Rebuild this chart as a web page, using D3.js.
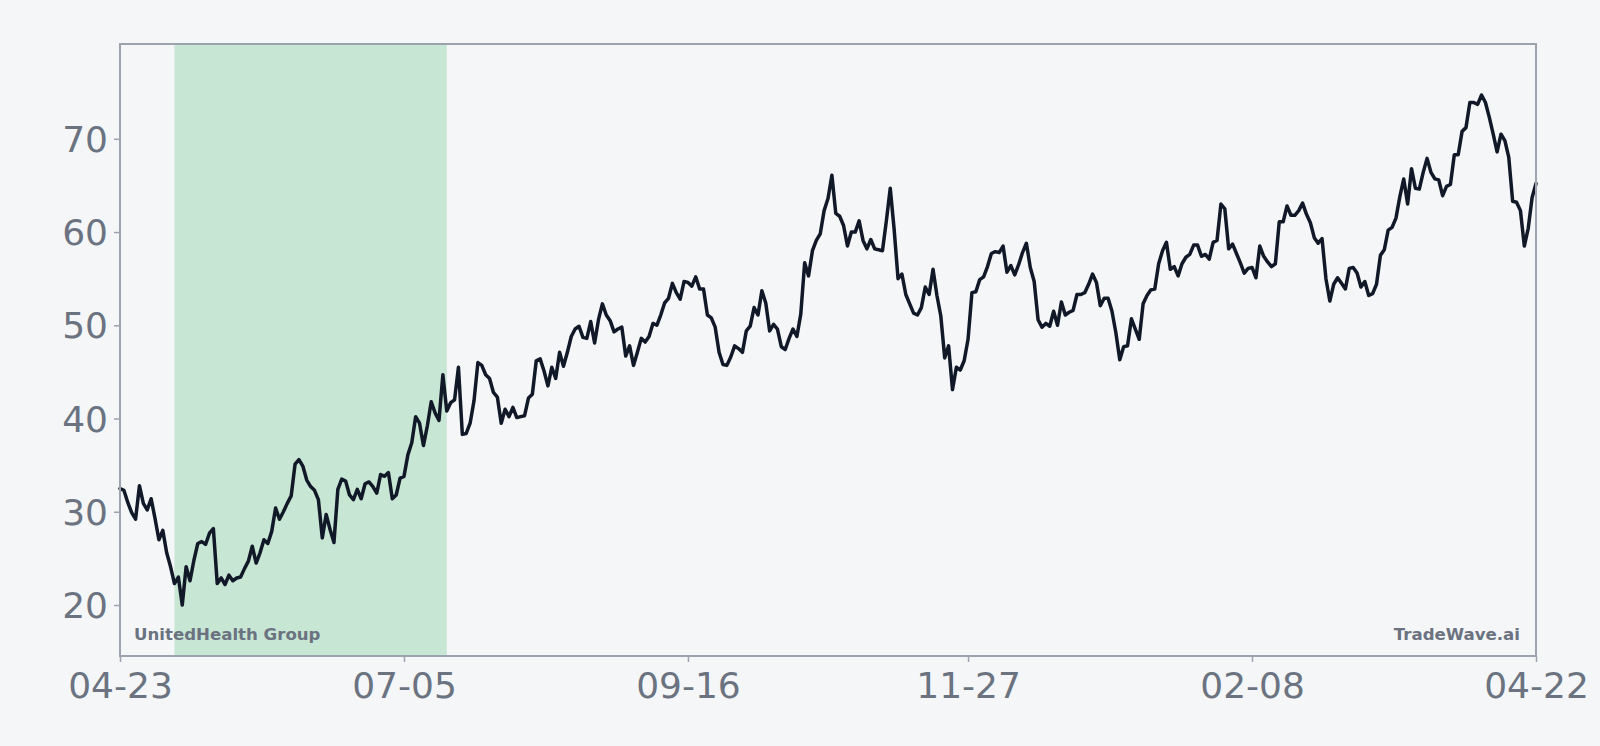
<!DOCTYPE html>
<html>
<head>
<meta charset="utf-8">
<script src="https://cdn.jsdelivr.net/npm/d3@7"></script>
<style>
  html, body { margin: 0; padding: 0; background: #f4f6f8; }
  svg { display: block; }
</style>
</head>
<body>
<svg id="chart" width="1600" height="746"></svg>
<script>
// ---- data ----
const startDate = "2022-04-23";           // first daily observation
const prices = [
  32.5,32.3,31.0,29.9,29.2,32.8,30.9,30.2,31.4,29.3,
  27.0,28.0,25.6,24.1,22.3,23.0,20.0,24.1,22.6,24.8,
  26.6,26.8,26.5,27.7,28.2,22.3,22.9,22.2,23.2,22.6,
  22.9,23.0,23.9,24.7,26.3,24.5,25.6,27.0,26.6,27.9,
  30.4,29.2,30.0,30.9,31.7,35.1,35.6,34.9,33.4,32.7,
  32.3,31.3,27.2,29.7,28.1,26.7,32.4,33.5,33.3,31.8,
  31.3,32.4,31.4,33.0,33.2,32.7,32.0,34.0,33.8,34.2,
  31.4,31.8,33.6,33.8,36.1,37.4,40.2,39.5,37.1,39.2,
  41.8,40.6,39.8,44.7,40.8,41.7,42.0,45.5,38.3,38.4,
  39.5,41.9,46.0,45.7,44.7,44.3,42.8,42.3,39.5,41.0,
  40.2,41.2,40.1,40.2,40.3,42.2,42.6,46.2,46.4,45.1,
  43.5,45.5,44.3,47.1,45.6,47.1,48.8,49.6,49.9,48.7,
  48.6,50.4,48.1,50.6,52.3,51.1,50.5,49.3,49.6,49.8,
  46.7,47.8,45.7,47.1,48.6,48.2,48.8,50.2,50.0,51.1,
  52.4,52.9,54.5,53.5,52.8,54.7,54.6,54.2,55.2,53.9,
  53.9,51.1,50.8,49.8,47.1,45.8,45.7,46.6,47.8,47.5,
  47.1,49.4,49.9,51.9,51.1,53.7,52.4,49.4,50.1,49.6,
  47.7,47.4,48.6,49.6,48.8,51.2,56.7,55.3,58.0,59.1,
  59.8,62.3,63.6,66.1,62.0,61.7,60.7,58.5,60.0,60.0,
  61.2,59.1,58.2,59.2,58.2,58.1,58.0,61.2,64.7,60.3,
  55.0,55.5,53.3,52.3,51.3,51.1,51.9,54.1,53.3,56.0,
  53.2,51.0,46.5,47.8,43.1,45.5,45.2,46.2,48.5,53.5,
  53.6,54.9,55.2,56.3,57.7,57.9,57.8,58.5,55.7,56.4,
  55.4,56.5,57.8,58.8,56.2,54.7,50.6,49.8,50.2,49.9,
  51.5,50.0,52.5,51.1,51.4,51.6,53.3,53.3,53.5,54.4,
  55.5,54.6,52.1,52.9,52.9,51.5,49.2,46.3,47.7,47.8,
  50.7,49.6,48.5,52.3,53.2,53.8,53.9,56.6,58.0,58.9,
  56.0,56.3,55.3,56.6,57.3,57.6,58.6,58.6,57.4,57.6,
  57.1,58.9,59.1,63.0,62.5,58.2,58.7,57.7,56.7,55.6,
  56.1,56.2,55.1,58.5,57.4,56.8,56.3,56.6,61.1,61.1,
  62.8,61.8,61.8,62.3,63.1,61.9,61.0,59.4,58.8,59.3,
  55.0,52.6,54.4,55.1,54.5,53.9,56.1,56.2,55.6,54.1,
  54.7,53.2,53.4,54.4,57.5,58.1,60.2,60.5,61.5,63.8,
  65.7,63.0,66.8,64.7,64.6,66.4,67.9,66.4,65.7,65.6,
  63.9,64.9,65.1,68.3,68.3,70.8,71.2,73.9,73.9,73.7,
  74.7,73.9,72.3,70.5,68.6,70.5,69.8,68.0,63.3,63.2,
  62.3,58.5,60.4,63.7,65.2
];
const spanStart = "2022-05-07";
const spanEnd = "2022-07-16";
const xTickDates = ["2022-04-23","2022-07-05","2022-09-16","2022-11-27","2023-02-08","2023-04-22"];
const xTickLabels = ["04-23","07-05","09-16","11-27","02-08","04-22"];
const yTicks = [20, 30, 40, 50, 60, 70];
const titleLeft = "UnitedHealth Group";
const titleRight = "TradeWave.ai";

// ---- layout ----
const W = 1600, H = 746;
const margin = { left: 120, right: 64, top: 44, bottom: 90 };
const iw = W - margin.left - margin.right;
const ih = H - margin.top - margin.bottom;

const parse = d3.utcParse("%Y-%m-%d");
const t0 = parse(startDate);
const series = prices.map((v, i) => ({ date: d3.utcDay.offset(t0, i), value: v }));

const x = d3.scaleUtc()
  .domain(d3.extent(series, d => d.date))
  .range([0, iw]);
const [ymin, ymax] = d3.extent(prices);
const pad = (ymax - ymin) * 0.1;
const y = d3.scaleLinear()
  .domain([ymin - pad, ymax + pad])
  .range([ih, 0]);

const svg = d3.select("#chart");
svg.append("rect").attr("width", W).attr("height", H).attr("fill", "#f4f6f8");

const g = svg.append("g").attr("transform", `translate(${margin.left},${margin.top})`);

// highlight span
g.append("rect")
  .attr("x", x(parse(spanStart)))
  .attr("y", 0)
  .attr("width", x(parse(spanEnd)) - x(parse(spanStart)))
  .attr("height", ih)
  .attr("fill", "#c7e6d4");

// line
g.append("path")
  .datum(series)
  .attr("fill", "none")
  .attr("stroke", "#111827")
  .attr("stroke-width", 3.5)
  .attr("stroke-linejoin", "round")
  .attr("stroke-linecap", "round")
  .attr("d", d3.line().x(d => x(d.date)).y(d => y(d.value)));

// axes
const axisColor = "#9ca3af";
const labelColor = "#6b7280";

const xAxis = g.append("g")
  .attr("transform", `translate(0,${ih})`)
  .call(d3.axisBottom(x)
    .tickValues(xTickDates.map(parse))
    .tickFormat((d, i) => xTickLabels[i])
    .tickSize(6)
    .tickPadding(10));
const yAxis = g.append("g")
  .call(d3.axisLeft(y)
    .tickValues(yTicks)
    .tickFormat(d3.format("d"))
    .tickSize(6)
    .tickPadding(6));

[xAxis, yAxis].forEach(a => {
  a.select(".domain").remove();
  a.selectAll(".tick line").attr("stroke", axisColor).attr("stroke-width", 1.5);
  a.selectAll(".tick text")
    .attr("fill", labelColor)
    .style("font-family", "'DejaVu Sans', sans-serif")
    .style("font-size", "36px");
});
xAxis.selectAll(".tick text").attr("dy", "0.71em");
yAxis.selectAll(".tick text").attr("dy", "0.35em");

// frame
g.append("rect")
  .attr("x", 0).attr("y", 0).attr("width", iw).attr("height", ih)
  .attr("fill", "none")
  .attr("stroke", axisColor)
  .attr("stroke-width", 2);

// corner labels
g.append("text")
  .attr("x", 14).attr("y", ih - 16)
  .attr("fill", labelColor)
  .style("font-family", "'DejaVu Sans', sans-serif")
  .style("font-weight", "bold")
  .style("font-size", "16.6px")
  .text(titleLeft);
g.append("text")
  .attr("x", iw - 16).attr("y", ih - 16)
  .attr("text-anchor", "end")
  .attr("fill", labelColor)
  .style("font-family", "'DejaVu Sans', sans-serif")
  .style("font-weight", "bold")
  .style("font-size", "16.6px")
  .text(titleRight);
</script>
</body>
</html>
